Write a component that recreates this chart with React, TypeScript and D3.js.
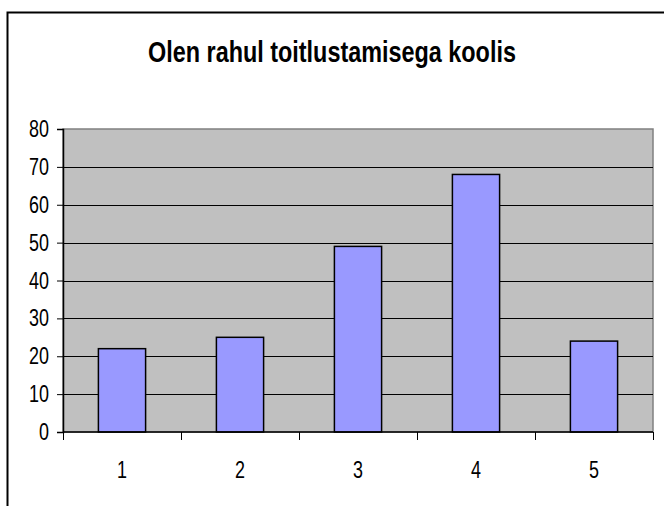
import { useEffect, useRef } from "react"
import * as d3 from "d3"

const categories = ["1", "2", "3", "4", "5"]
const values = [22, 25, 49, 68, 24]
const yTicks = [0, 10, 20, 30, 40, 50, 60, 70, 80]
const title = "Olen rahul toitlustamisega koolis"

const FONT = "'Liberation Sans', Arial, sans-serif"
// the original text is horizontally condensed
const SQUEEZE = 0.78

export default function App() {
  const svgRef = useRef<SVGSVGElement>(null)

  useEffect(() => {
    if (!svgRef.current) return
    const width = 664
    const height = 506
    const margin = { top: 129, right: 11, bottom: 74, left: 63 }

    const svg = d3.select(svgRef.current)
    svg.selectAll("*").remove()

    // outer chart frame (only left and top visible)
    svg
      .append("path")
      .attr("d", `M7.5,${height + 2}V12.5H${width + 2}`)
      .attr("fill", "none")
      .attr("stroke", "#000")
      .attr("stroke-width", 2)

    svg
      .append("text")
      .attr("transform", `translate(332,62) scale(${SQUEEZE},1)`)
      .attr("text-anchor", "middle")
      .attr("font-family", FONT)
      .attr("font-weight", "bold")
      .attr("font-size", "30px")
      .text(title)

    const x = d3
      .scaleBand<string>()
      .domain(categories)
      .range([margin.left, width - margin.right])
      .paddingInner(0.6)
      .paddingOuter(0.3)

    const y = d3
      .scaleLinear()
      .domain([0, 80])
      .range([height - margin.bottom, margin.top])

    const x0 = margin.left
    const x1 = width - margin.right
    const y0 = height - margin.bottom
    const y1 = margin.top

    // plot area
    svg
      .append("rect")
      .attr("x", x0)
      .attr("y", y1)
      .attr("width", x1 - x0)
      .attr("height", y0 - y1)
      .attr("fill", "#c0c0c0")
      .attr("stroke", "#808080")
      .attr("stroke-width", 1.5)

    // gridlines
    svg
      .append("g")
      .selectAll("line")
      .data(yTicks.filter((t) => t > 0 && t < 80))
      .join("line")
      .attr("x1", x0)
      .attr("x2", x1)
      .attr("y1", (d) => Math.round(y(d)) + 0.5)
      .attr("y2", (d) => Math.round(y(d)) + 0.5)
      .attr("stroke", "#000")
      .attr("stroke-width", 1)

    // bars
    svg
      .append("g")
      .selectAll("rect")
      .data(values)
      .join("rect")
      .attr("x", (_, i) => x(categories[i]) as number)
      .attr("y", (d) => y(d))
      .attr("width", x.bandwidth())
      .attr("height", (d) => y0 - y(d))
      .attr("fill", "#9999ff")
      .attr("stroke", "#000")
      .attr("stroke-width", 1.5)

    // y axis
    const yAxis = svg
      .append("g")
      .attr("transform", `translate(${x0},0)`)
      .call(d3.axisLeft(y).tickValues(yTicks).tickSize(6).tickFormat(() => ""))
    yAxis.select(".domain").attr("stroke", "#000").attr("stroke-width", 1.5)
    yAxis.selectAll(".tick line").attr("stroke", "#000")
    svg
      .append("g")
      .selectAll("text")
      .data(yTicks)
      .join("text")
      .attr("transform", (d) => `translate(${x0 - 14},${y(d) + 8}) scale(${SQUEEZE},1)`)
      .attr("text-anchor", "end")
      .attr("font-family", FONT)
      .attr("font-size", "23px")
      .text((d) => d)

    // x axis, ticks at category boundaries
    const xAxis = svg.append("g").attr("transform", `translate(0,${y0})`)
    xAxis
      .append("line")
      .attr("x1", x0)
      .attr("x2", x1)
      .attr("stroke", "#000")
      .attr("stroke-width", 1.5)
    const step = x.step()
    const bounds = d3.range(categories.length + 1).map((i) => x0 + i * step)
    xAxis
      .selectAll("line.tick")
      .data(bounds)
      .join("line")
      .attr("class", "tick")
      .attr("x1", (d) => Math.round(d) + 0.5)
      .attr("x2", (d) => Math.round(d) + 0.5)
      .attr("y1", 0)
      .attr("y2", 8)
      .attr("stroke", "#000")
    xAxis
      .selectAll("text")
      .data(categories)
      .join("text")
      .attr("transform", (d) => `translate(${(x(d) as number) + x.bandwidth() / 2},46) scale(${SQUEEZE},1)`)
      .attr("text-anchor", "middle")
      .attr("font-family", FONT)
      .attr("font-size", "23px")
      .text((d) => d)
  }, [])

  return (
    <svg
      ref={svgRef}
      width={664}
      height={506}
      style={{ position: "absolute", left: 0, top: 0, background: "#fff" }}
    />
  )
}
